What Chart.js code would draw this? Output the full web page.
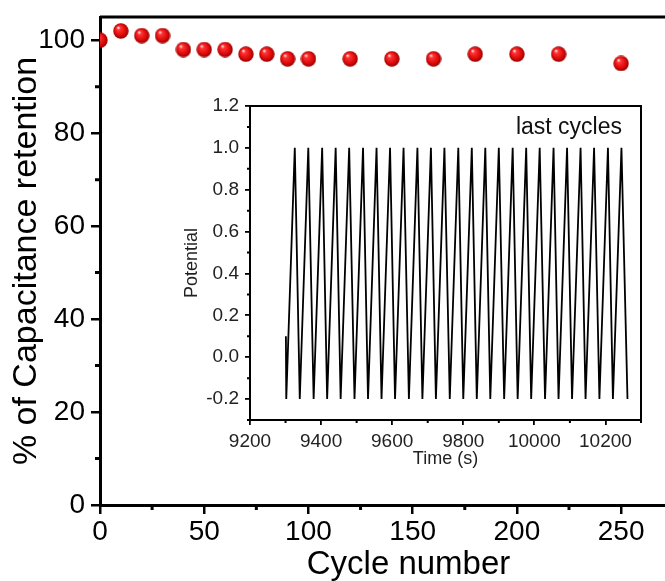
<!DOCTYPE html>
<html>
<head>
<meta charset="utf-8">
<script src="https://cdn.jsdelivr.net/npm/chart.js@4.4.1/dist/chart.umd.min.js"></script>
<style>
  html, body { margin: 0; padding: 0; background: #fff; }
  #wrap { position: relative; width: 665px; height: 581px; overflow: hidden; }
  #main { position: absolute; left: 0; top: 0; }
  #inset { position: absolute; left: 170px; top: 90px; }
</style>
</head>
<body>
<div id="wrap">
  <canvas id="main" width="730" height="581"></canvas>
  <canvas id="inset" width="480" height="385"></canvas>
</div>
<script>
// main plot: capacitance retention vs cycle number
const cycles = [0, 10, 20, 30, 40, 50, 60, 70, 80, 90, 100, 120, 140, 160, 180, 200, 220, 250];
const retention = [100, 102, 101, 101, 98, 98, 98, 97, 97, 96, 96, 96, 96, 96, 97, 97, 97, 95];

// inset: potential vs time, last cycles (vertices of the sawtooth)
const insetTime = [9301, 9302,
  9326, 9340, 9364, 9379, 9403, 9417, 9441, 9455, 9479, 9494,
  9518, 9532, 9556, 9570, 9594, 9608, 9632, 9647, 9671, 9685,
  9709, 9723, 9747, 9762, 9786, 9800, 9824, 9838, 9862, 9876,
  9900, 9915, 9939, 9953, 9977, 9991, 10015, 10030, 10054, 10068,
  10092, 10106, 10130, 10144, 10168, 10183, 10207, 10221, 10245, 10262];
const insetPotential = [0.1, -0.2,
  1.0, -0.2, 1.0, -0.2, 1.0, -0.2, 1.0, -0.2, 1.0, -0.2,
  1.0, -0.2, 1.0, -0.2, 1.0, -0.2, 1.0, -0.2, 1.0, -0.2,
  1.0, -0.2, 1.0, -0.2, 1.0, -0.2, 1.0, -0.2, 1.0, -0.2,
  1.0, -0.2, 1.0, -0.2, 1.0, -0.2, 1.0, -0.2, 1.0, -0.2,
  1.0, -0.2, 1.0, -0.2, 1.0, -0.2, 1.0, -0.2, 1.0, -0.2];

const FONT = '"Liberation Sans", Arial, sans-serif';

function makeBall(r) {
  const c = document.createElement('canvas');
  c.width = c.height = r * 2;
  const g = c.getContext('2d');
  const grad = g.createRadialGradient(r * 0.66, r * 0.56, r * 0.05, r, r, r);
  grad.addColorStop(0, '#ffe8e8');
  grad.addColorStop(0.2, '#ff3434');
  grad.addColorStop(0.7, '#dc0808');
  grad.addColorStop(1, '#8a0000');
  g.fillStyle = grad;
  g.beginPath();
  g.arc(r, r, r - 0.3, 0, Math.PI * 2);
  g.fill();
  return c;
}

// no extra label padding, the layout padding sets the plot box
function fixX(h) { return s => { s.height = h; s.paddingLeft = 0; s.paddingRight = 0; }; }
function fixY(w) { return s => { s.width = w; s.paddingTop = 0; s.paddingBottom = 0; }; }

// frame + minor ticks + optional label
function framePlugin(o) {
  return {
    id: 'frame',
    afterDraw(chart) {
      const { ctx, chartArea: a } = chart;
      const xs = chart.scales.x, ys = chart.scales.y;
      ctx.save();
      ctx.strokeStyle = '#000';
      ctx.lineWidth = o.width;
      ctx.beginPath();
      ctx.moveTo(a.left, a.top);
      ctx.lineTo(a.right, a.top);
      if (o.right) ctx.lineTo(a.right, a.bottom);
      ctx.stroke();
      ctx.beginPath();
      xs.ticks.forEach(t => {
        if (o.minorX(t.value)) {
          const px = xs.getPixelForValue(t.value);
          ctx.moveTo(px, a.bottom);
          ctx.lineTo(px, a.bottom + o.minorLen);
        }
      });
      ys.ticks.forEach(t => {
        if (o.minorY(t.value)) {
          const py = ys.getPixelForValue(t.value);
          ctx.moveTo(a.left, py);
          ctx.lineTo(a.left - o.minorLen, py);
        }
      });
      ctx.stroke();
      if (o.label) {
        ctx.fillStyle = '#111';
        ctx.font = o.label.font;
        ctx.textAlign = 'right';
        ctx.textBaseline = 'middle';
        ctx.fillText(o.label.text, a.right - o.label.dx, a.top + o.label.dy);
      }
      ctx.restore();
    }
  };
}

const majX = v => v % 50 === 0;
const minX = v => v % 50 === 25;
const majY = v => v % 20 === 0;
const minY = v => v % 20 === 10;

new Chart(document.getElementById('main'), {
  type: 'scatter',
  data: {
    datasets: [{
      data: cycles.map((c, i) => ({ x: c, y: retention[i] })),
      pointStyle: makeBall(8),
      pointRadius: 8,
      showLine: false
    }]
  },
  options: {
    responsive: false,
    animation: false,
    devicePixelRatio: 1,
    layout: { padding: { top: 17, right: 13, left: 0, bottom: 0 } },
    plugins: { legend: { display: false }, tooltip: { enabled: false } },
    scales: {
      x: {
        type: 'linear', min: 0, max: 296,
        afterFit: fixX(76),
        border: { display: true, color: '#000', width: 3 },
        grid: {
          drawOnChartArea: false, tickLength: 9, lineWidth: 2.5,
          tickColor: c => majX(c.tick.value) ? '#000' : 'rgba(0,0,0,0)'
        },
        ticks: {
          stepSize: 25, includeBounds: false, autoSkip: false, maxRotation: 0, padding: 1,
          color: '#000', font: { family: FONT, size: 28 },
          callback: v => majX(v) ? String(v) : ''
        },
        title: {
          display: true, text: 'Cycle number', color: '#000',
          font: { family: FONT, size: 33 }, padding: { top: 0, bottom: -4 }
        }
      },
      y: {
        type: 'linear', min: 0, max: 105,
        afterFit: fixY(100),
        border: { display: true, color: '#000', width: 3 },
        grid: {
          drawOnChartArea: false, tickLength: 9, lineWidth: 2.5,
          tickColor: c => majY(c.tick.value) ? '#000' : 'rgba(0,0,0,0)'
        },
        ticks: {
          stepSize: 10, includeBounds: false, autoSkip: false, padding: 6,
          color: '#000', font: { family: FONT, size: 28 },
          callback: v => majY(v) ? String(v) : ''
        },
        title: {
          display: true, text: '% of Capacitance retention', color: '#000',
          font: { family: FONT, size: 34 }, padding: { top: 6, bottom: 0 }
        }
      }
    }
  },
  plugins: [framePlugin({ width: 3, right: false, minorLen: 5, minorX: minX, minorY: minY })]
});

const tenth = v => Math.round(v * 10);
const majIX = v => Math.round(v - 9200) % 200 === 0;
const minIX = v => !majIX(v);
const majIY = v => tenth(v) % 2 === 0;
const minIY = v => !majIY(v);

new Chart(document.getElementById('inset'), {
  type: 'scatter',
  data: {
    datasets: [{
      data: insetTime.map((t, i) => ({ x: t, y: insetPotential[i] })),
      showLine: true,
      borderColor: '#000',
      borderWidth: 1.8,
      pointRadius: 0,
      tension: 0
    }]
  },
  options: {
    responsive: false,
    animation: false,
    devicePixelRatio: 1,
    layout: { padding: { top: 16, right: 9, left: 0, bottom: 0 } },
    plugins: { legend: { display: false }, tooltip: { enabled: false } },
    scales: {
      x: {
        type: 'linear', min: 9200, max: 10300,
        afterFit: fixX(55),
        border: { display: true, color: '#000', width: 2 },
        grid: {
          drawOnChartArea: false, tickLength: 5, lineWidth: 1.8,
          tickColor: c => majIX(c.tick.value) ? '#000' : 'rgba(0,0,0,0)'
        },
        ticks: {
          stepSize: 100, autoSkip: false, maxRotation: 0, padding: 5,
          color: '#222', font: { family: FONT, size: 19 },
          callback: v => majIX(v) ? String(v) : ''
        },
        title: {
          display: true, text: 'Time (s)', color: '#222',
          font: { family: FONT, size: 18 }, padding: { top: 0, bottom: 5 }
        }
      },
      y: {
        type: 'linear', min: -0.3, max: 1.2,
        afterFit: fixY(80),
        border: { display: true, color: '#000', width: 2 },
        grid: {
          drawOnChartArea: false, tickLength: 5, lineWidth: 1.8,
          tickColor: c => majIY(c.tick.value) ? '#000' : 'rgba(0,0,0,0)'
        },
        ticks: {
          stepSize: 0.1, autoSkip: false, padding: 6,
          color: '#222', font: { family: FONT, size: 19 },
          callback: v => majIY(v) ? (tenth(v) / 10).toFixed(1) : ''
        },
        title: {
          display: true, text: 'Potential', color: '#222',
          font: { family: FONT, size: 18 }, padding: { top: 11, bottom: 0 }
        }
      }
    }
  },
  plugins: [framePlugin({
    width: 2, right: true, minorLen: 3, minorX: minIX, minorY: minIY,
    label: { text: 'last cycles', font: '23px ' + FONT, dx: 19, dy: 22 }
  })]
});
</script>
</body>
</html>
